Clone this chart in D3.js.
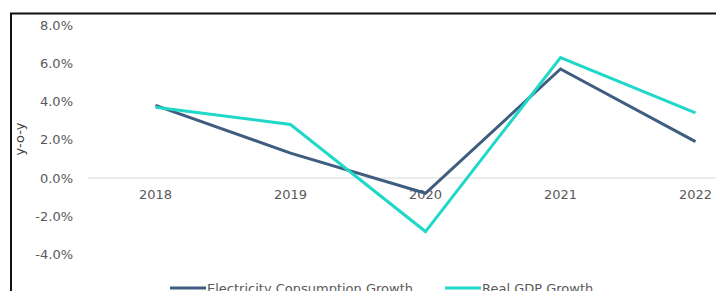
<!DOCTYPE html>
<html>
<head>
<meta charset="utf-8">
<script src="https://cdn.jsdelivr.net/npm/d3@7.9.0/dist/d3.min.js"></script>
<style>
  html, body { margin: 0; padding: 0; background: #fff; }
  svg { display: block; font-family: 'DejaVu Sans', sans-serif; }
</style>
</head>
<body>
<svg id="chart" width="716" height="291"></svg>
<script>
const years = ['2018', '2019', '2020', '2021', '2022'];
const electricity = [3.8, 1.3, -0.8, 5.7, 1.9];
const gdp = [3.7, 2.8, -2.8, 6.3, 3.4];
const yTicks = [-4, -2, 0, 2, 4, 6, 8];
const seriesNames = ['Electricity Consumption Growth', 'Real GDP Growth'];
const seriesColors = ['#3f5d7f', '#1fd8c8'];

const svg = d3.select('#chart');

// frame (top + left edge visible)
svg.append('path')
  .attr('d', 'M11,291 V13.5 H716')
  .attr('fill', 'none')
  .attr('stroke', '#111')
  .attr('stroke-width', 2);

let x = d3.scalePoint().domain(years).range([88, 763]).padding(0.5);
let y = d3.scaleLinear().domain([-4, 8]).range([254.5, 25]);

// y tick labels
svg.append('g')
  .selectAll('text')
  .data(yTicks)
  .join('text')
  .attr('x', 73)
  .attr('y', (d) => y(d))
  .attr('dy', '0.35em')
  .attr('text-anchor', 'end')
  .attr('font-size', 13)
  .attr('fill', '#595959')
  .text((d) => d.toFixed(1) + '%');

// zero line
svg.append('line')
  .attr('x1', 88).attr('x2', 716)
  .attr('y1', y(0)).attr('y2', y(0))
  .attr('stroke', '#d9d9d9')
  .attr('stroke-width', 1);

// x labels just below zero line
svg.append('g')
  .selectAll('text')
  .data(years)
  .join('text')
  .attr('x', (d) => x(d))
  .attr('y', y(0) + 21)
  .attr('text-anchor', 'middle')
  .attr('font-size', 13)
  .attr('fill', '#595959')
  .text((d) => d);

// axis title
svg.append('text')
  .attr('transform', 'translate(24,139) rotate(-90)')
  .attr('text-anchor', 'middle')
  .attr('font-size', 13)
  .attr('fill', '#404040')
  .text('y-o-y');

let line = d3.line()
  .x((d, i) => x(years[i]))
  .y((d) => y(d));

[electricity, gdp].forEach((vals, idx) => {
  svg.append('path')
    .datum(vals)
    .attr('d', line)
    .attr('fill', 'none')
    .attr('stroke', seriesColors[idx])
    .attr('stroke-width', 3)
    .attr('stroke-linejoin', 'miter');
});

// legend
const legendX = [170, 445];
seriesNames.forEach((name, idx) => {
  svg.append('line')
    .attr('x1', legendX[idx]).attr('x2', legendX[idx] + 36)
    .attr('y1', 288).attr('y2', 288)
    .attr('stroke', seriesColors[idx])
    .attr('stroke-width', 3);
  svg.append('text')
    .attr('x', legendX[idx] + 37)
    .attr('y', 293)
    .attr('font-size', 13)
    .attr('fill', '#595959')
    .text(name);
});
</script>
</body>
</html>
